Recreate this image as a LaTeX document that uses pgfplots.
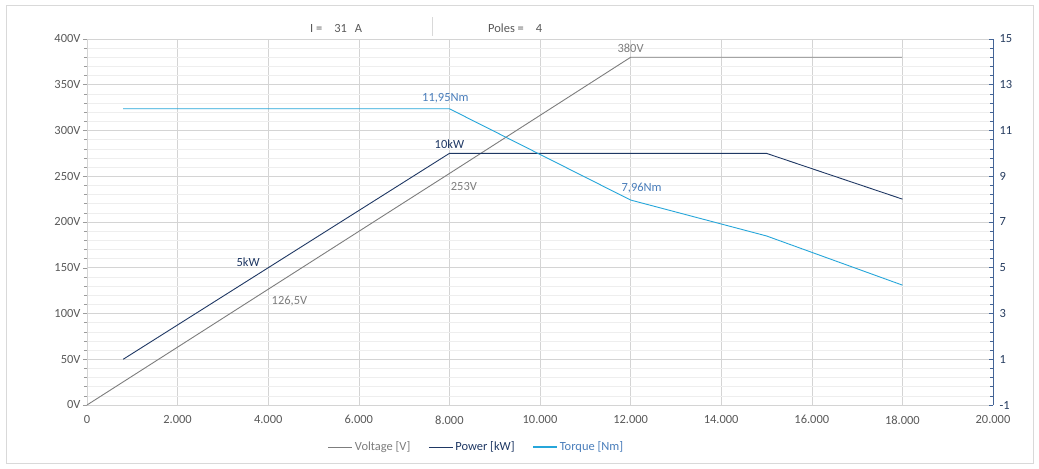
\documentclass[border=0pt]{standalone}
\usepackage{pgfplots}
\pgfplotsset{compat=1.18}
\usepackage{fontspec}
\setmainfont{Carlito}
\definecolor{voltgray}{RGB}{125,125,125}
\definecolor{powernavy}{RGB}{31,56,100}
\definecolor{torqueblue}{RGB}{38,166,218}
\definecolor{torquelab}{RGB}{74,126,187}
\definecolor{ticklab}{RGB}{89,89,89}
\definecolor{rightlab}{RGB}{38,60,95}
\definecolor{rightaxis}{RGB}{68,100,150}
\definecolor{gridmajor}{RGB}{212,212,212}
\definecolor{gridminor}{RGB}{238,238,238}
\definecolor{framegray}{RGB}{217,217,217}

\begin{document}
\begin{tikzpicture}[font=\fontsize{12.5}{14}\selectfont]
\useasboundingbox[fill=white] (-87bp,-64bp) rectangle (952bp,405bp);
\draw[framegray, line width=0.8pt] (-81bp,-58bp) rectangle (946bp,400bp);

% header texts
\node[text=ticklab, anchor=base west, inner sep=0pt] at (223bp,372bp) {I =\hspace{12bp}31\hspace{8bp}A};
\draw[framegray, line width=0.8pt] (345bp,369bp) -- (345bp,388bp);
\node[text=ticklab, anchor=base west, inner sep=0pt] at (401bp,372bp) {Poles =\hspace{12bp}4};

\begin{axis}[
	scale only axis,
	width=906bp, height=366bp,
	at={(0,0)}, anchor=south west,
	% X
	xmin=0, xmax=20000,
	xtick={0,2000,...,20000},
	axis x line*=bottom,
	x axis line style={draw=gridmajor},
	xtick style={draw=none},
	scaled x ticks=false,
	xticklabel style={text=ticklab, font=\fontsize{12.5}{14}\selectfont, yshift=-3bp},
	/pgf/number format/.cd, 1000 sep={.}, assume math mode=true, /pgfplots/.cd,
	% Y
	ymin=0, ymax=400,
	ytick={0,50,...,400},
	minor y tick num=4,
	axis y line*=left,
	y axis line style={draw=gridmajor},
	tick align=outside,
	ytick style={draw=ticklab!60, line width=0.5pt},
	major tick length=4bp, minor tick length=3bp,
	yticklabel={\pgfmathprintnumber[fixed,precision=0]{\tick}V},
	yticklabel style={text=ticklab, font=\fontsize{12.5}{14}\selectfont, xshift=1bp},
	% grid
	grid=both,
	major grid style={draw=gridmajor, line width=0.6pt},
	minor grid style={draw=gridminor, line width=0.5pt},
	clip=false,
	]
	\addplot[voltgray, line width=0.9pt] table {
		0 0
		4000 126.5
		8000 253
		12000 380
		18000 380
	};
	\node[text=voltgray, anchor=south, yshift=1bp] at (axis cs:12000,380) {380V};
	\node[text=voltgray, anchor=north west, yshift=-5bp, xshift=-2bp] at (axis cs:8000,253) {253V};
	\node[text=voltgray, anchor=north west, yshift=-3bp, xshift=0bp] at (axis cs:4000,126.5) {126,5V};
\end{axis}

\begin{axis}[
	scale only axis,
	width=906bp, height=366bp,
	at={(0,0)}, anchor=south west,
	xmin=0, xmax=20000,
	axis x line=none,
	ymin=-1, ymax=15,
	ytick={-1,1,...,15},
	minor y tick num=4,
	axis y line*=right,
	y axis line style={draw=rightaxis, line width=0.8pt},
	tick align=inside,
	ytick style={draw=rightaxis, line width=0.6pt},
	major tick length=4bp, minor tick length=3bp,
	yticklabel style={text=rightlab, font=\fontsize{12.5}{14}\selectfont, xshift=3bp},
	/pgf/number format/assume math mode=true,
	clip=false,
	legend columns=3,
	legend style={
		at={(axis description cs:0.43,0)}, anchor=center, yshift=-42bp,
		draw=none, fill=none, font=\fontsize{12.5}{14}\selectfont,
		/tikz/column 2/.style={column sep=16bp},
		/tikz/column 4/.style={column sep=16bp},
	},
	legend image code/.code={\draw (0bp,0bp) -- (24bp,0bp);},
	]
	\addplot[powernavy, line width=0.9pt, forget plot] table {
		800 1
		4000 5
		8000 10
		15000 10
		18000 8
	};
	\addplot[torqueblue, line width=0.9pt, forget plot] table {
		800 11.95
		8000 11.95
		12000 7.96
		15000 6.39
		18000 4.24
	};

	\addlegendimage{draw=voltgray, line width=1pt}
	\addlegendentry{\textcolor{voltgray}{Voltage [V]}}
	\addlegendimage{draw=powernavy, line width=1pt}
	\addlegendentry{\textcolor{powernavy}{Power [kW]}}
	\addlegendimage{draw=torqueblue, line width=1.2pt}
	\addlegendentry{\textcolor{torquelab}{Torque [Nm]}}

	\node[text=powernavy, anchor=south, yshift=1bp] at (axis cs:8000,10) {10kW};
	\node[text=powernavy, anchor=south east, xshift=-5bp, yshift=-2bp] at (axis cs:4000,5) {5kW};
	\node[text=torquelab, anchor=south, yshift=2bp, xshift=-4bp] at (axis cs:8000,11.95) {11,95Nm};
	\node[text=torquelab, anchor=south, yshift=3bp, xshift=11bp] at (axis cs:12000,7.96) {7,96Nm};
\end{axis}
\end{tikzpicture}
\end{document}
